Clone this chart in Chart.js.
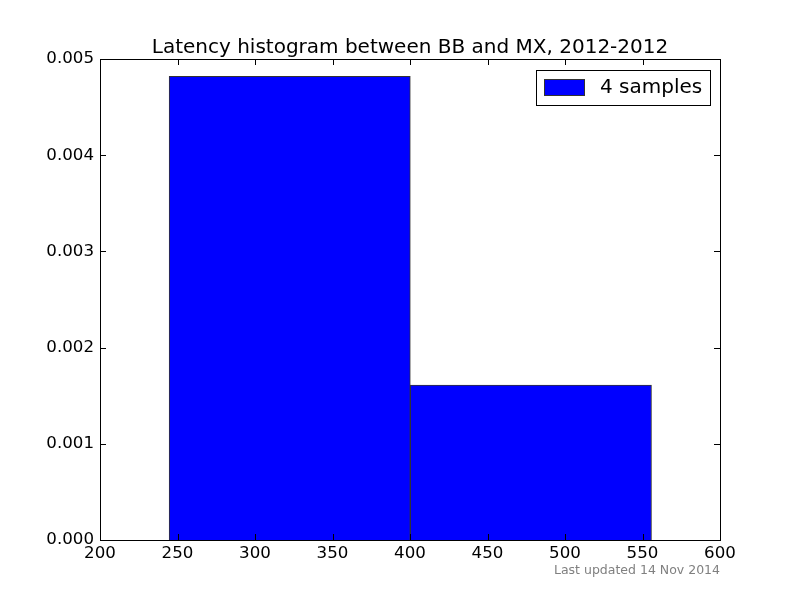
<!DOCTYPE html>
<html>
<head>
<meta charset="utf-8">
<script src="https://cdn.jsdelivr.net/npm/chart.js@4/dist/chart.umd.min.js"></script>
<style>
  html, body { margin: 0; padding: 0; background: #fff; }
  #wrap { width: 800px; height: 600px; }
</style>
</head>
<body>
<div id="wrap"><canvas id="chart"></canvas></div>
<script>
// ─── Data ────────────────────────────────────────────────────────────
const binEdges = [244.6, 400.2, 555.8];
const densities = [0.00482, 0.00161];
const xTicks = [200, 250, 300, 350, 400, 450, 500, 550, 600];
const yTicks = [0, 0.001, 0.002, 0.003, 0.004, 0.005];
const seriesLabel = '4 samples';
const titleText = 'Latency histogram between BB and MX, 2012-2012';
const footText = 'Last updated 14 Nov 2014';

const FONT = 'DejaVu Sans';

// bars sit at bin centres, width comes from the spacing between them
const points = densities.map((d, i) => ({ x: (binEdges[i] + binEdges[i + 1]) / 2, y: d }));

// ─── Title, frame, inward ticks, legend, footnote ────────────────────
const mplDecor = {
    id: 'mplDecor',
    afterDraw(chart) {
        const { ctx, chartArea: a, scales } = chart;
        const len = 6;
        ctx.save();

        ctx.fillStyle = '#000';
        ctx.font = '20px "' + FONT + '"';
        ctx.textAlign = 'center';
        ctx.textBaseline = 'alphabetic';
        ctx.fillText(titleText, (a.left + a.right) / 2, a.top - 6);

        ctx.strokeStyle = '#000';
        ctx.lineWidth = 1;
        ctx.beginPath();
        xTicks.forEach(v => {
            const px = Math.round(scales.x.getPixelForValue(v)) + 0.5;
            ctx.moveTo(px, a.bottom); ctx.lineTo(px, a.bottom - len);
            ctx.moveTo(px, a.top); ctx.lineTo(px, a.top + len);
        });
        yTicks.forEach(v => {
            const py = Math.round(scales.y.getPixelForValue(v)) + 0.5;
            ctx.moveTo(a.left, py); ctx.lineTo(a.left + len, py);
            ctx.moveTo(a.right, py); ctx.lineTo(a.right - len, py);
        });
        ctx.stroke();
        ctx.strokeRect(Math.round(a.left) + 0.5, Math.round(a.top) + 0.5,
                       Math.round(a.right - a.left), Math.round(a.bottom - a.top));

        // legend box, top right
        const bx = a.right - 184, by = a.top + 11, bw = 174, bh = 35;
        ctx.fillStyle = '#fff';
        ctx.fillRect(bx, by, bw, bh);
        ctx.strokeRect(bx + 0.5, by + 0.5, bw, bh);
        ctx.fillStyle = '#0000ff';
        ctx.fillRect(bx + 8, by + 9, 40, 16);
        ctx.strokeStyle = '#333';
        ctx.strokeRect(bx + 8.5, by + 9.5, 40, 16);
        ctx.fillStyle = '#000';
        ctx.font = '20px "' + FONT + '"';
        ctx.textBaseline = 'middle';
        ctx.textAlign = 'left';
        ctx.fillText(seriesLabel, bx + 64, by + 18);

        // footnote
        ctx.fillStyle = '#808080';
        ctx.font = '12.5px "' + FONT + '"';
        ctx.textAlign = 'right';
        ctx.textBaseline = 'alphabetic';
        ctx.fillText(footText, a.right, 574);
        ctx.restore();
    }
};

new Chart(document.getElementById('chart'), {
    type: 'bar',
    data: {
        datasets: [{
            label: seriesLabel,
            data: points,
            xAxisID: 'xb',
            backgroundColor: '#0000ff',
            borderColor: '#333333',
            borderWidth: 1,
            barPercentage: 1.0,
            categoryPercentage: 1.0
        }]
    },
    options: {
        responsive: true,
        maintainAspectRatio: false,
        animation: false,
        devicePixelRatio: 1,
        layout: { padding: { left: 0, right: 80, top: 59, bottom: 0 } },
        plugins: {
            legend: { display: false },
            tooltip: { enabled: false },
            title: { display: false }
        },
        scales: {
            // hidden axis the bars use: its ticks are the bin edges, so bar width = bin width
            xb: {
                type: 'linear',
                display: false,
                offset: false,
                min: 200,
                max: 600,
                afterBuildTicks: s => { s.ticks = binEdges.map(v => ({ value: v })); }
            },
            x: {
                type: 'linear',
                offset: false,
                min: 200,
                max: 600,
                afterBuildTicks: s => { s.ticks = xTicks.map(v => ({ value: v })); },
                afterFit: s => { s.height = 60; },
                grid: { display: false, drawTicks: false },
                border: { display: false },
                ticks: {
                    color: '#000',
                    padding: 4,
                    maxRotation: 0,
                    font: { family: FONT, size: 16.67 }
                }
            },
            y: {
                min: 0,
                max: 0.005,
                afterBuildTicks: s => { s.ticks = yTicks.map(v => ({ value: v })); },
                afterFit: s => { s.width = 100; },
                grid: { display: false, drawTicks: false },
                border: { display: false },
                ticks: {
                    color: '#000',
                    padding: 6,
                    font: { family: FONT, size: 16.67 },
                    callback: v => v.toFixed(3)
                }
            }
        }
    },
    plugins: [mplDecor]
});
</script>
</body>
</html>
